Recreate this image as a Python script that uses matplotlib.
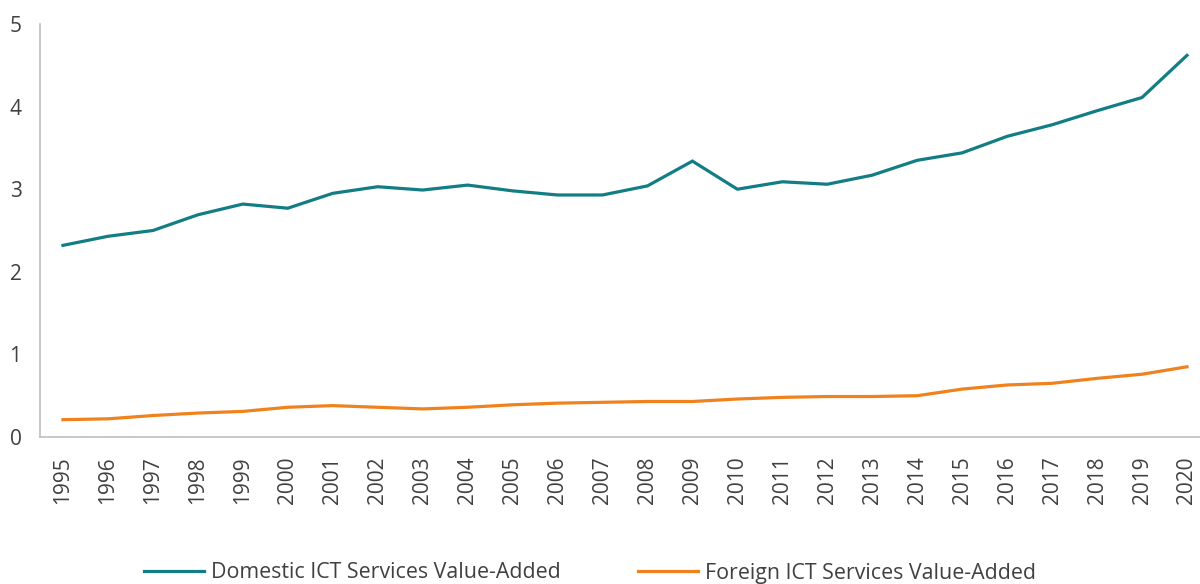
import matplotlib
matplotlib.use("Agg")
import matplotlib.pyplot as plt

years = list(range(1995, 2021))

domestic = [2.32, 2.43, 2.50, 2.69, 2.82, 2.77, 2.95, 3.03, 2.99, 3.05,
            2.98, 2.93, 2.93, 3.04, 3.34, 3.00, 3.09, 3.06, 3.17, 3.35,
            3.44, 3.64, 3.78, 3.95, 4.11, 4.62]

foreign = [0.21, 0.22, 0.26, 0.29, 0.31, 0.36, 0.38, 0.36, 0.34, 0.36,
           0.39, 0.41, 0.42, 0.43, 0.43, 0.46, 0.48, 0.49, 0.49, 0.50,
           0.58, 0.63, 0.65, 0.71, 0.76, 0.85]

series_labels = ["Domestic ICT Services Value-Added", "Foreign ICT Services Value-Added"]
y_ticks = [0, 1, 2, 3, 4, 5]

plt.rcParams["font.family"] = ["Open Sans", "DejaVu Sans"]

fig = plt.figure(figsize=(12, 5.84), dpi=100)
ax = fig.add_axes([0.033, 0.2517, 0.967, 0.7072])

x = list(range(len(years)))
ax.plot(x, domestic, color="#127D84", lw=2.3, label=series_labels[0], solid_joinstyle="miter")
ax.plot(x, foreign, color="#F0821E", lw=2.3, label=series_labels[1], solid_joinstyle="miter")

ax.set_xlim(-0.52, 25.29)
ax.set_ylim(0, 5)
ax.set_yticks(y_ticks)
ax.set_yticklabels([str(v) for v in y_ticks], fontsize=15, color="#404040")
ax.set_xticks(x)
ax.set_xticklabels([str(y) for y in years], rotation=90, fontsize=15, color="#404040")
ax.tick_params(axis="both", length=0)
ax.tick_params(axis="x", pad=14)
ax.tick_params(axis="y", pad=13)

for side in ["top", "right"]:
    ax.spines[side].set_visible(False)
for side in ["left", "bottom"]:
    ax.spines[side].set_color("#BFBFBF")
    ax.spines[side].set_linewidth(1.2)

leg = fig.legend(loc="center", bbox_to_anchor=(590 / 1200, 1 - 573 / 584), ncol=2,
                 frameon=False, fontsize=15.4, handlelength=2.8, handletextpad=0.35,
                 columnspacing=3.6)
for t in leg.get_texts():
    t.set_color("#404040")

fig.savefig("out.png", dpi=100)
